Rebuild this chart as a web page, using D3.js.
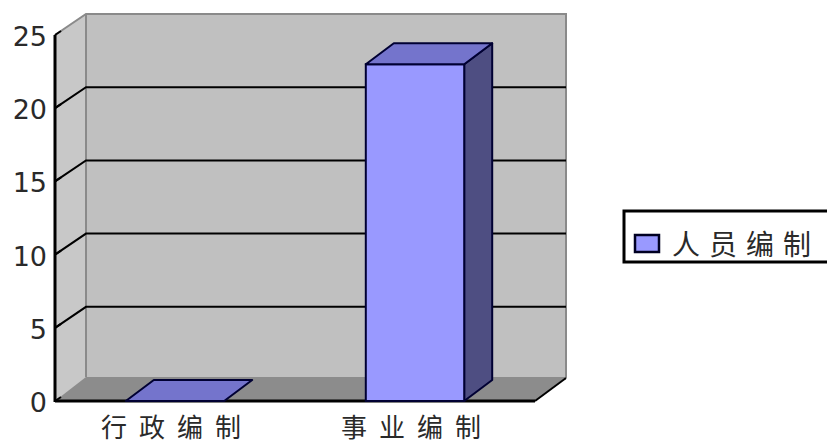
<!DOCTYPE html>
<html><head><meta charset="utf-8">
<script src="https://cdn.jsdelivr.net/npm/d3@7"></script>
<style>body{margin:0;background:#fff}svg{display:block}</style>
</head><body>
<svg id="c" width="827" height="446"></svg>
<script>
const categories = ["行政编制", "事业编制"];
const values = [0, 23];
const seriesName = "人员编制";
const yTicks = [0, 5, 10, 15, 20, 25];

const svg = d3.select("#c");
const DX = 31, DY = 21;           // wall depth offset
const BDX = 28, BDY = 21;         // bar depth offset
const x = d3.scaleBand().domain(categories).range([55, 535]).paddingInner(0.59).paddingOuter(0.295);
const y = d3.scaleLinear().domain([0, 25]).range([401, 35]);
const x0 = 55, x1 = 535;
const poly = pts => pts.map(p => p.join(",")).join(" ");

// left wall
svg.append("polygon").attr("points", poly([[x0, y(25)], [x0 + DX, y(25) - DY], [x0 + DX, y(0) - DY], [x0, y(0)]]))
  .attr("fill", "#c8c8c8");
// back wall
svg.append("polygon").attr("points", poly([[x0 + DX, y(25) - DY], [x1 + DX, y(25) - DY], [x1 + DX, y(0) - DY], [x0 + DX, y(0) - DY]]))
  .attr("fill", "#c0c0c0");
// floor
svg.append("polygon").attr("points", poly([[x0, y(0)], [x0 + DX, y(0) - DY - 3], [x1 + DX, y(0) - DY - 3], [x1, y(0)]]))
  .attr("fill", "#8c8c8c");
// wall edges
svg.append("polyline").attr("points", poly([[x0, y(25)], [x0 + DX, y(25) - DY], [x1 + DX, y(25) - DY], [x1 + DX, y(0) - DY - 2]]))
  .attr("fill", "none").attr("stroke", "#8a8a8a").attr("stroke-width", 2);
svg.append("line").attr("x1", x0 + DX).attr("x2", x0 + DX).attr("y1", y(25) - DY).attr("y2", y(0) - DY - 3)
  .attr("stroke", "#8a8a8a").attr("stroke-width", 2);

// gridlines
const gv = yTicks.filter(v => v > 0 && v < 25);
svg.selectAll(".g").data(gv).enter().append("polyline")
  .attr("points", v => poly([[x0, y(v)], [x0 + DX, y(v) - DY], [x1 + DX, y(v) - DY]]))
  .attr("fill", "none").attr("stroke", "#000").attr("stroke-width", 2);

// floor right edge
svg.append("line").attr("x1", x1).attr("y1", y(0)).attr("x2", x1 + DX).attr("y2", y(0) - DY - 2)
  .attr("stroke", "#000").attr("stroke-width", 2);

// axes
svg.append("line").attr("x1", x0).attr("x2", x0).attr("y1", y(25)).attr("y2", y(0) + 1).attr("stroke", "#000").attr("stroke-width", 3);
svg.append("line").attr("x1", x0).attr("x2", x1).attr("y1", y(0)).attr("y2", y(0)).attr("stroke", "#000").attr("stroke-width", 3);
svg.selectAll(".tk").data(yTicks).enter().append("line")
  .attr("x1", x0).attr("x2", x0 + 6).attr("y1", v => y(v)).attr("y2", v => y(v) - 4)
  .attr("stroke", "#000").attr("stroke-width", 2);

// bars
const bars = svg.selectAll(".bar").data(categories.map((c, i) => ({c, v: values[i]}))).enter().append("g");
bars.each(function(d) {
  const g = d3.select(this);
  const bx = x(d.c), bw = x.bandwidth(), yt = y(d.v), yb = y(0);
  if (d.v > 0) {
    g.append("polygon").attr("points", poly([[bx + bw, yt], [bx + bw + BDX, yt - BDY], [bx + bw + BDX, yb - BDY], [bx + bw, yb]]))
      .attr("fill", "#4e4e82").attr("stroke", "#000033").attr("stroke-width", 2).attr("stroke-linejoin", "round");
    g.append("rect").attr("x", bx).attr("y", yt).attr("width", bw).attr("height", yb - yt)
      .attr("fill", "#9999ff").attr("stroke", "#000033").attr("stroke-width", 2);
  }
  g.append("polygon").attr("points", poly([[bx, yt], [bx + BDX, yt - BDY], [bx + bw + BDX, yt - BDY], [bx + bw, yt]]))
    .attr("fill", "#7474cc").attr("stroke", "#000033").attr("stroke-width", 2).attr("stroke-linejoin", "round");
});

// y labels
svg.selectAll(".yl").data(yTicks).enter().append("text")
  .attr("x", 47).attr("y", v => y(v) + 11).attr("text-anchor", "end")
  .attr("font-family", "DejaVu Sans").attr("font-size", 27).attr("fill", "#2a2a2a").text(v => v);

// category labels
const LS = 12;
svg.selectAll(".xl").data(categories).enter().append("text")
  .attr("x", c => x(c) + x.bandwidth() / 2 - 4 + LS / 2).attr("y", 437).attr("text-anchor", "middle")
  .attr("font-family", "Noto Sans CJK SC").attr("font-size", 26).attr("letter-spacing", LS)
  .attr("fill", "#2a2a2a").text(c => c);

// legend
svg.append("rect").attr("x", 624).attr("y", 211).attr("width", 220).attr("height", 51)
  .attr("fill", "#fff").attr("stroke", "#000").attr("stroke-width", 3);
svg.append("rect").attr("x", 635).attr("y", 235).attr("width", 24).attr("height", 17)
  .attr("fill", "#9999ff").attr("stroke", "#000022").attr("stroke-width", 2.5);
svg.append("text").attr("x", 672).attr("y", 255).attr("font-family", "Noto Sans CJK SC").attr("font-size", 28)
  .attr("letter-spacing", 9).attr("fill", "#2a2a2a").text(seriesName);
</script>
</body></html>
